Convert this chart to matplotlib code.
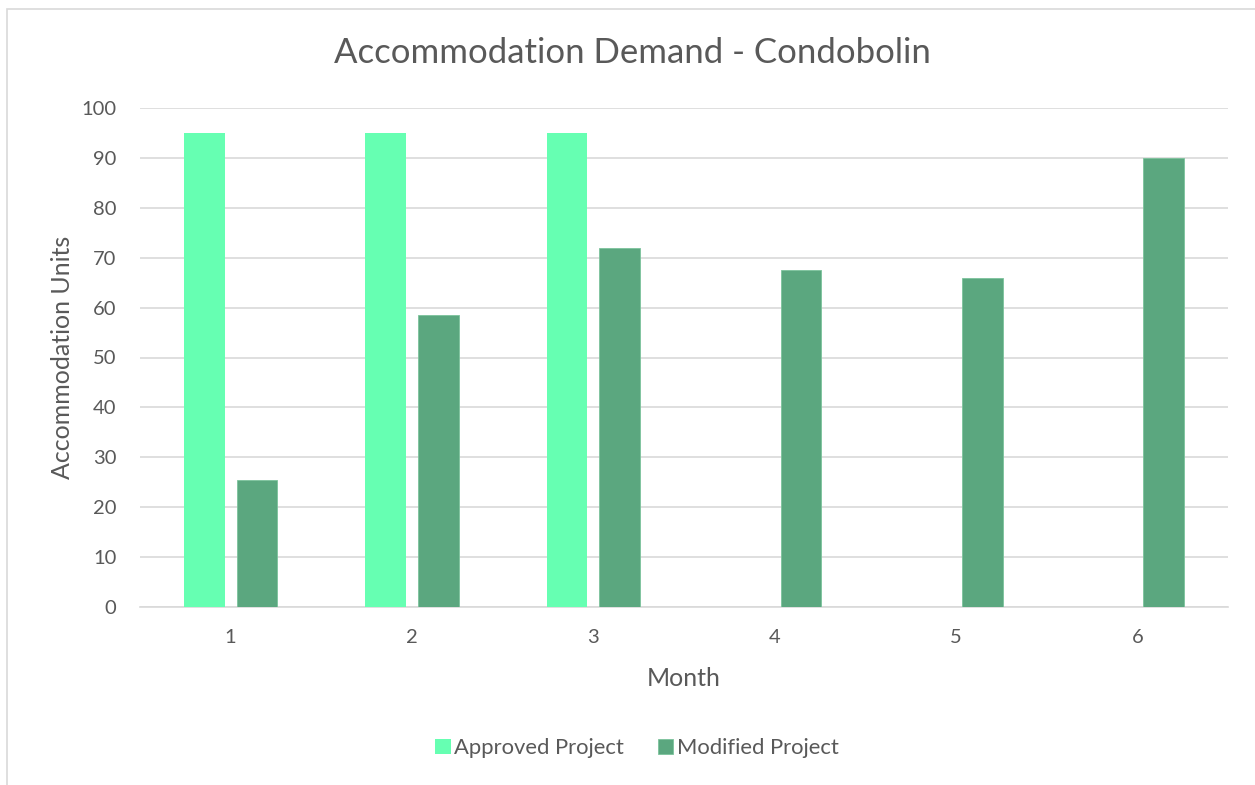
import numpy as np
import matplotlib.pyplot as plt
from matplotlib.patches import Rectangle

# Chart data
months = [1, 2, 3, 4, 5, 6]
approved = [95, 95, 95, 0, 0, 0]
modified = [25.5, 58.5, 72, 67.5, 66, 90]

plt.rcParams['font.family'] = ['Lato', 'DejaVu Sans']
text_col = '#595959'
grid_col = '#D9D9D9'

fig = plt.figure(figsize=(12.55, 7.85), dpi=100)
ax = fig.add_axes([140 / 1255, 178 / 785, 1088 / 1255, 499 / 785])

# outer chart border (cropped on right and bottom)
fig.patches.append(Rectangle((7 / 1255, -0.1), 1.2, (785 - 9) / 785 + 0.1,
                             transform=fig.transFigure, fill=False,
                             edgecolor=grid_col, linewidth=1.2))

x = np.array(months)
w = 0.225
ax.bar(x - 0.145, approved, width=w, color='#66FFB2', label='Approved Project', zorder=3)
ax.bar(x + 0.145, modified, width=w, color='#5BA77F', edgecolor='#7CC39C',
       linewidth=0.6, label='Modified Project', zorder=3)

ax.set_xlim(0.5, 6.5)
ax.set_ylim(0, 100)
ax.set_yticks(range(0, 101, 10))
ax.set_xticks(months)
ax.grid(axis='y', color=grid_col, linewidth=1.2, zorder=0)
for side in ['top', 'right', 'left']:
    ax.spines[side].set_visible(False)
ax.spines['bottom'].set_color(grid_col)
ax.spines['bottom'].set_linewidth(1.2)
ax.tick_params(length=0, labelsize=14.5, labelcolor=text_col)
ax.tick_params(axis='y', pad=17)
ax.tick_params(axis='x', pad=16)

ax.set_xlabel('Month', fontsize=18, color=text_col, labelpad=15)
ax.set_ylabel('Accommodation Units', fontsize=18, color=text_col, labelpad=5)
fig.text(632 / 1255, 1 - 53 / 785, 'Accommodation Demand - Condobolin',
         ha='center', va='center', fontsize=25, color=text_col)

fig.legend(loc='center', bbox_to_anchor=(637 / 1255, 1 - 748 / 785), ncol=2,
           frameon=False, fontsize=15.8, labelcolor=text_col, handlelength=0.7,
           handleheight=0.7, handletextpad=0.15, columnspacing=1.55)

fig.savefig('out.png', dpi=100)
